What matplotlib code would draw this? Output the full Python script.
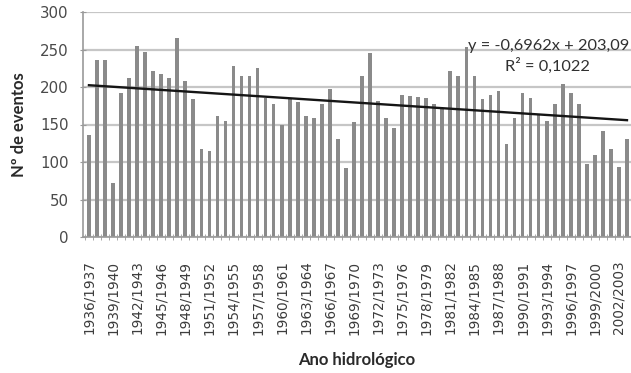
import matplotlib
matplotlib.use("Agg")
import matplotlib.pyplot as plt
import numpy as np

plt.rcParams["font.family"] = ["Lato", "DejaVu Sans"]

# hydrological years 1936/1937 .. 2003/2004
start_years = list(range(1936, 2004))
labels = ["%d/%d" % (y, y + 1) for y in start_years]

eventos = [136, 236, 236, 72, 192, 212, 255, 247, 221, 217,
           212, 266, 208, 184, 117, 115, 161, 155, 228, 215,
           215, 226, 185, 177, 150, 184, 180, 162, 159, 177,
           198, 131, 92, 153, 215, 246, 181, 159, 146, 190,
           188, 187, 185, 177, 171, 221, 215, 254, 215, 184,
           190, 195, 124, 159, 192, 185, 164, 155, 177, 204,
           192, 177, 97, 110, 142, 117, 93, 131]

# linear trend as reported: y = slope*x + intercept, x = 1..n
slope = -0.6962
intercept = 203.09
r2 = 0.1022

x = np.arange(len(eventos))

fig = plt.figure(figsize=(6.31, 3.73), dpi=100)
ax = fig.add_axes([83 / 631, 1 - 237 / 373, 548 / 631, 225 / 373])

ax.bar(x, eventos, width=0.46, color="#8a8a8a", linewidth=0, zorder=2)

xt = x + 1
ax.plot(x, slope * xt + intercept, color="#151515", linewidth=1.7, zorder=3)

ax.set_ylim(0, 300)
ax.set_yticks(range(0, 301, 50))
ax.set_xlim(-0.74, 67.3)
ax.yaxis.grid(True, color="#c6c6c6", linewidth=1.6, zorder=0)
ax.set_axisbelow(True)

ax.set_xticks(x[::3])
ax.set_xticklabels(labels[::3], rotation=90, color="#3c3c3c",
                   fontdict={"family": "DejaVu Sans", "size": 9.8})
ax.set_xticks(np.arange(-0.5, len(eventos), 1), minor=True)
ax.tick_params(axis="x", which="major", length=0, pad=17)
ax.tick_params(axis="x", which="minor", length=5, direction="inout",
               color="#9a9a9a")
ax.tick_params(axis="y", length=5, direction="inout", color="#9a9a9a", pad=8)
ax.set_yticklabels([str(v) for v in range(0, 301, 50)], color="#4a4a4a",
                   fontdict={"family": "DejaVu Sans", "size": 10.8})

for side in ("top", "right"):
    ax.spines[side].set_visible(False)
for side in ("left", "bottom"):
    ax.spines[side].set_color("#9a9a9a")
    ax.spines[side].set_linewidth(1.2)

ax.set_ylabel("Nº de eventos", fontsize=12, fontweight="bold", color="#2a2a2a",
              labelpad=9)
ax.set_xlabel("Ano hidrológico", fontsize=12, fontweight="bold", color="#2a2a2a",
              labelpad=12)

eq = "y = %sx + %s" % (("%.4f" % slope).replace(".", ","),
                       ("%.2f" % intercept).replace(".", ","))
ax.text(0.997, 0.85, eq, transform=ax.transAxes, ha="right",
        va="center", fontsize=11.8, color="#303030")
ax.text(0.848, 0.76, "R² = " + ("%.4f" % r2).replace(".", ","),
        transform=ax.transAxes, ha="center", va="center", fontsize=11.8,
        color="#303030")

fig.savefig("out.png", dpi=100)
